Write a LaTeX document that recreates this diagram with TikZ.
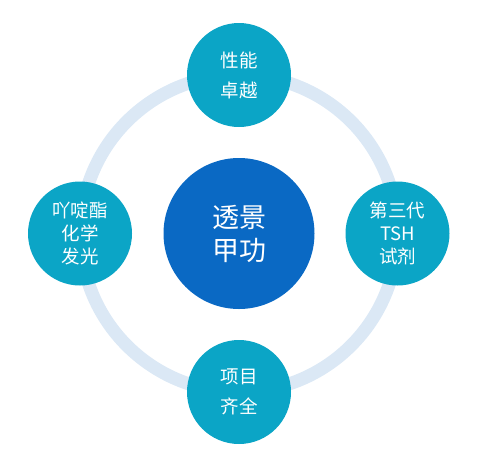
\documentclass[tikz,border=0pt]{standalone}
\usepackage{fontspec}
\setmainfont{Noto Sans CJK SC}
\definecolor{ringc}{HTML}{DBE8F5}
\definecolor{tealc}{HTML}{0BA5C6}
\definecolor{corec}{HTML}{0A69C4}
\begin{document}
\begin{tikzpicture}[x=1pt,y=-1pt,
  outer/.style={circle,fill=tealc,minimum size=104pt,inner sep=0pt,text=white,align=center},
  core/.style={circle,fill=corec,minimum size=151pt,inner sep=0pt,text=white,align=center,font=\fontsize{27}{33}\selectfont},
  wide/.style={font=\fontsize{18.5}{30}\selectfont},
  tight/.style={font=\fontsize{18.5}{23}\selectfont}]
\useasboundingbox (0,0) rectangle (481,472);
\coordinate (o) at (239,233.5);
\draw[ringc,line width=13pt] (o) circle[radius=158.5];
\node[core] (c) at (o) {透景\\甲功};
\node[outer,wide] (t) at (239,75) {性能\\卓越};
\node[outer,tight] (r) at (397.5,233.5) {第三代\\TSH\\试剂};
\node[outer,wide] (b) at (239,392) {项目\\齐全};
\node[outer,tight] (l) at (80,233.5) {吖啶酯\\化学\\发光};
\end{tikzpicture}
\end{document}
